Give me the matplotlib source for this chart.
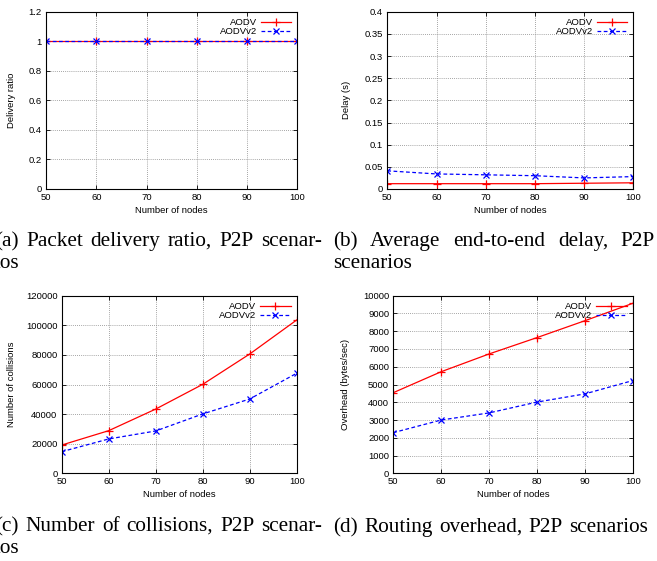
import matplotlib
matplotlib.use("Agg")
import matplotlib.pyplot as plt
from matplotlib.ticker import MultipleLocator, FormatStrFormatter

# data
nodes = [50, 60, 70, 80, 90, 100]

pdr_aodv = [1, 1, 1, 1, 1, 1]
pdr_aodvv2 = [1, 1, 1, 1, 1, 1]

delay_aodv = [0.012, 0.012, 0.012, 0.012, 0.013, 0.014]
delay_aodvv2 = [0.041, 0.034, 0.032, 0.030, 0.025, 0.028]

coll_aodv = [19100, 28800, 43400, 60100, 80600, 103600]
coll_aodvv2 = [14600, 23200, 28600, 40100, 50200, 67600]

ovh_aodv = [4540, 5720, 6720, 7640, 8590, 9570]
ovh_aodvv2 = [2290, 3000, 3400, 4010, 4470, 5220]

W, H = 657, 561
SANS = "Liberation Sans"
SERIF = "Liberation Serif"
FS = 6.8
CAP = 15.3

fig = plt.figure(figsize=(W / 100, H / 100), dpi=100)


def px_axes(left, right, top, bottom):
    return fig.add_axes([left / W, 1 - bottom / H, (right - left) / W, (bottom - top) / H])


def panel(ax, aodv, aodvv2, ylabel, ymax, ystep, ylab_x, xlab_y):
    ax.plot(nodes, aodv, color="#ff0000", lw=0.9, marker="+", ms=5.5, mew=0.9, label="AODV")
    ax.plot(nodes, aodvv2, color="#0000ff", lw=0.9, ls=(0, (3, 2)), marker="x", ms=4.5, mew=0.9,
            label="AODVv2")
    ax.set_xlim(50, 100)
    ax.set_ylim(0, ymax)
    ax.xaxis.set_major_locator(MultipleLocator(10))
    ax.yaxis.set_major_locator(MultipleLocator(ystep))
    ax.yaxis.set_major_formatter(FormatStrFormatter("%g"))
    ax.tick_params(direction="in", length=3, width=0.6, top=True, right=True,
                   labelsize=FS, pad=3)
    for lab in ax.get_xticklabels() + ax.get_yticklabels():
        lab.set_fontfamily(SANS)
    ax.grid(True, color="#888888", ls=(0, (1, 1.5)), lw=0.6)
    for s in ax.spines.values():
        s.set_linewidth(0.8)
    ax.set_xlabel("Number of nodes", fontsize=FS, fontfamily=SANS, va="center")
    ax.set_ylabel(ylabel, fontsize=FS, fontfamily=SANS, va="center")
    ax.xaxis.set_label_coords(0.5, xlab_y)
    ax.yaxis.set_label_coords(ylab_x, 0.5)
    ax.legend(loc="upper right", frameon=False, markerfirst=False, numpoints=1,
              handlelength=3.2, handletextpad=0.4, labelspacing=0.0, borderpad=0.15,
              borderaxespad=0.5, prop={"family": SANS, "size": FS})


ax_a = px_axes(46, 297.3, 11.7, 189)
panel(ax_a, pdr_aodv, pdr_aodvv2, "Delivery ratio", 1.2, 0.2, -0.1365, -0.122)

ax_b = px_axes(387.3, 633.3, 11.7, 189)
panel(ax_b, delay_aodv, delay_aodvv2, "Delay (s)", 0.4, 0.05, -0.165, -0.122)

ax_c = px_axes(61.7, 296.7, 295.7, 473.3)
panel(ax_c, coll_aodv, coll_aodvv2, "Number of collisions", 120000, 20000, -0.2128, -0.122)

ax_d = px_axes(393.3, 632.7, 295.7, 473.3)
panel(ax_d, ovh_aodv, ovh_aodvv2, "Overhead (bytes/sec)", 10000, 1000, -0.1976, -0.122)

# captions (justified lines like the paper)
renderer = fig.canvas.get_renderer()


def caption_line(text, x0, y, x1=None):
    words = text.split(" ")
    ts = [fig.text(0, 1 - y / H, w, fontsize=CAP, fontfamily=SERIF, va="baseline", ha="left")
          for w in words]
    widths = [t.get_window_extent(renderer).width for t in ts]
    if x1 is None or len(ts) == 1:
        sp = CAP * 1.389 * 0.25
    else:
        sp = (x1 - x0 - sum(widths)) / (len(ts) - 1)
    x = x0
    for t, w in zip(ts, widths):
        t.set_x(x / W)
        x += w + sp


caption_line("(a) Packet delivery ratio, P2P scenar-", -5, 246, 322)
caption_line("ios", -5, 268)
caption_line("(b) Average end-to-end delay, P2P", 333, 246, 655)
caption_line("scenarios", 333, 268)
caption_line("(c) Number of collisions, P2P scenar-", -5, 531, 322)
caption_line("ios", -5, 553)
caption_line("(d) Routing overhead, P2P scenarios", 333, 532, 648)

fig.savefig("out.png", dpi=100)
